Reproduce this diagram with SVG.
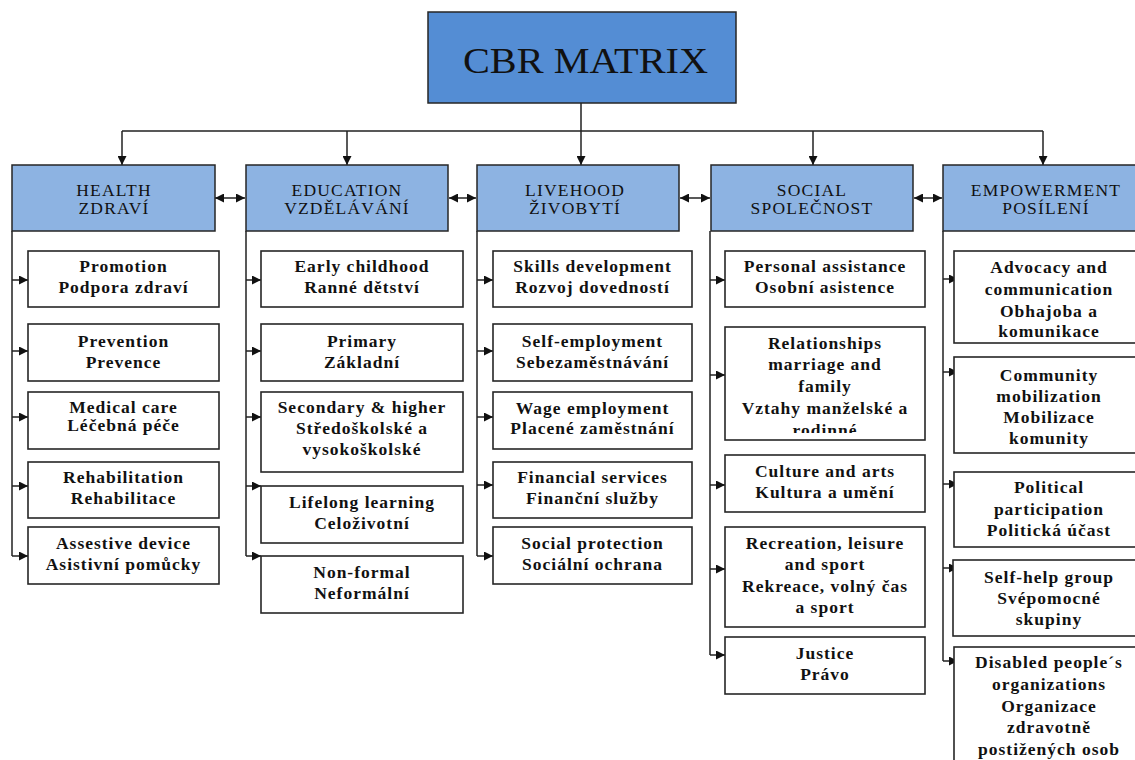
<svg xmlns="http://www.w3.org/2000/svg" width="1135" height="760" viewBox="0 0 1135 760">
<style>
.root{fill:#548DD4;stroke:#262626;stroke-width:1.5}
.hdr{fill:#8DB3E2;stroke:#262626;stroke-width:1.5}
.box{fill:#ffffff;stroke:#262626;stroke-width:1.6}
.con{fill:none;stroke:#222;stroke-width:1.5}
text{font-family:"Liberation Serif","Times New Roman",serif;fill:#111;text-anchor:middle}
.t{font-size:36px}
.h{font-size:17.5px;letter-spacing:1.2px}
.c{font-size:17.5px;font-weight:bold;letter-spacing:1px}
</style>
<defs>
<marker id="ah" viewBox="0 0 10 10" refX="10" refY="5" markerUnits="userSpaceOnUse" markerWidth="10" markerHeight="9" orient="auto-start-reverse">
<path d="M0,0 L10,5 L0,10 z" fill="#111"/>
</marker>
<clipPath id="clipRel"><rect x="725" y="327" width="200" height="106"/></clipPath>
</defs>

<g id="connectors">
<path class="con" d="M581,103 V131 M122,131 H1043"/>
<path class="con" marker-end="url(#ah)" d="M122,131 V165"/>
<path class="con" marker-end="url(#ah)" d="M347,131 V165"/>
<path class="con" marker-end="url(#ah)" d="M581,131 V165"/>
<path class="con" marker-end="url(#ah)" d="M813,131 V165"/>
<path class="con" marker-end="url(#ah)" d="M1043,131 V165"/>
<path class="con" marker-start="url(#ah)" marker-end="url(#ah)" d="M215,198 H245"/>
<path class="con" marker-start="url(#ah)" marker-end="url(#ah)" d="M449,198 H476"/>
<path class="con" marker-start="url(#ah)" marker-end="url(#ah)" d="M680,198 H710"/>
<path class="con" marker-start="url(#ah)" marker-end="url(#ah)" d="M914,198 H942"/>
<path class="con" d="M12,231 V556 M246,231 V556 M477,231 V556 M710,231 V655 M943,231 V661"/>
<path class="con" marker-end="url(#ah)" d="M12,280 H28"/>
<path class="con" marker-end="url(#ah)" d="M12,351 H28"/>
<path class="con" marker-end="url(#ah)" d="M12,417 H28"/>
<path class="con" marker-end="url(#ah)" d="M12,486 H28"/>
<path class="con" marker-end="url(#ah)" d="M12,556 H28"/>
<path class="con" marker-end="url(#ah)" d="M246,280 H261"/>
<path class="con" marker-end="url(#ah)" d="M246,351 H261"/>
<path class="con" marker-end="url(#ah)" d="M246,417 H261"/>
<path class="con" marker-end="url(#ah)" d="M246,486 H261"/>
<path class="con" marker-end="url(#ah)" d="M246,556 H261"/>
<path class="con" marker-end="url(#ah)" d="M477,280 H493"/>
<path class="con" marker-end="url(#ah)" d="M477,351 H493"/>
<path class="con" marker-end="url(#ah)" d="M477,417 H493"/>
<path class="con" marker-end="url(#ah)" d="M477,485 H493"/>
<path class="con" marker-end="url(#ah)" d="M477,556 H493"/>
<path class="con" marker-end="url(#ah)" d="M710,280 H725"/>
<path class="con" marker-end="url(#ah)" d="M710,375 H725"/>
<path class="con" marker-end="url(#ah)" d="M710,485 H725"/>
<path class="con" marker-end="url(#ah)" d="M710,569 H725"/>
<path class="con" marker-end="url(#ah)" d="M710,655 H725"/>
<path class="con" marker-end="url(#ah)" d="M943,279 H958"/>
<path class="con" marker-end="url(#ah)" d="M943,372 H958"/>
<path class="con" marker-end="url(#ah)" d="M943,484 H958"/>
<path class="con" marker-end="url(#ah)" d="M943,568 H958"/>
<path class="con" marker-end="url(#ah)" d="M943,661 H958"/>
</g>

<g id="cbr-matrix">
<rect class="root" x="428" y="12" width="308" height="91"/>
<text class="t" x="585.5" y="73" textLength="245" lengthAdjust="spacingAndGlyphs">CBR MATRIX</text>
</g>

<g id="health">
<rect class="hdr" x="12" y="165" width="203" height="66"/>
<text class="h" x="114" y="196">HEALTH</text>
<text class="h" x="114" y="214">ZDRAVÍ</text>
</g>
<g id="education">
<rect class="hdr" x="246" y="165" width="202" height="66"/>
<text class="h" x="347" y="196">EDUCATION</text>
<text class="h" x="347" y="214">VZDĚLÁVÁNÍ</text>
</g>
<g id="livehood">
<rect class="hdr" x="477" y="165" width="202" height="66"/>
<text class="h" x="575" y="196">LIVEHOOD</text>
<text class="h" x="575" y="214">ŽIVOBYTÍ</text>
</g>
<g id="social">
<rect class="hdr" x="711" y="165" width="202" height="66"/>
<text class="h" x="812" y="196">SOCIAL</text>
<text class="h" x="812" y="214">SPOLEČNOST</text>
</g>
<g id="empowerment">
<rect class="hdr" x="943" y="165" width="210" height="66"/>
<text class="h" x="1046" y="196">EMPOWERMENT</text>
<text class="h" x="1046" y="214">POSÍLENÍ</text>
</g>

<g id="h-promotion">
<rect class="box" x="28" y="251" width="191" height="56"/>
<text class="c" x="123.5" y="272">Promotion</text>
<text class="c" x="123.5" y="293">Podpora zdraví</text>
</g>
<g id="h-prevention">
<rect class="box" x="28" y="324" width="191" height="57"/>
<text class="c" x="123.5" y="347">Prevention</text>
<text class="c" x="123.5" y="368">Prevence</text>
</g>
<g id="h-medical">
<rect class="box" x="28" y="392" width="191" height="57"/>
<text class="c" x="123.5" y="413">Medical care</text>
<text class="c" x="123.5" y="431">Léčebná péče</text>
</g>
<g id="h-rehab">
<rect class="box" x="28" y="462" width="191" height="56"/>
<text class="c" x="123.5" y="483">Rehabilitation</text>
<text class="c" x="123.5" y="504">Rehabilitace</text>
</g>
<g id="h-assistive">
<rect class="box" x="28" y="527" width="191" height="57"/>
<text class="c" x="123.5" y="549">Assestive device</text>
<text class="c" x="123.5" y="570">Asistivní pomůcky</text>
</g>

<g id="e-early">
<rect class="box" x="261" y="251" width="202" height="56"/>
<text class="c" x="362" y="272">Early childhood</text>
<text class="c" x="362" y="293">Ranné dětství</text>
</g>
<g id="e-primary">
<rect class="box" x="261" y="324" width="202" height="57"/>
<text class="c" x="362" y="347">Primary</text>
<text class="c" x="362" y="368">Základní</text>
</g>
<g id="e-secondary">
<rect class="box" x="261" y="392" width="202" height="80"/>
<text class="c" x="362" y="413">Secondary &amp; higher</text>
<text class="c" x="362" y="434">Středoškolské a</text>
<text class="c" x="362" y="455">vysokoškolské</text>
</g>
<g id="e-lifelong">
<rect class="box" x="261" y="486" width="202" height="57"/>
<text class="c" x="362" y="508">Lifelong learning</text>
<text class="c" x="362" y="529">Celoživotní</text>
</g>
<g id="e-nonformal">
<rect class="box" x="261" y="556" width="202" height="57"/>
<text class="c" x="362" y="578">Non-formal</text>
<text class="c" x="362" y="599">Neformální</text>
</g>

<g id="l-skills">
<rect class="box" x="493" y="251" width="199" height="56"/>
<text class="c" x="592.5" y="272">Skills development</text>
<text class="c" x="592.5" y="293">Rozvoj dovedností</text>
</g>
<g id="l-self">
<rect class="box" x="493" y="324" width="199" height="57"/>
<text class="c" x="592.5" y="347">Self-employment</text>
<text class="c" x="592.5" y="368">Sebezaměstnávání</text>
</g>
<g id="l-wage">
<rect class="box" x="493" y="392" width="199" height="57"/>
<text class="c" x="592.5" y="414">Wage employment</text>
<text class="c" x="592.5" y="434">Placené zaměstnání</text>
</g>
<g id="l-financial">
<rect class="box" x="493" y="462" width="199" height="56"/>
<text class="c" x="592.5" y="483">Financial services</text>
<text class="c" x="592.5" y="504">Finanční služby</text>
</g>
<g id="l-protection">
<rect class="box" x="493" y="527" width="199" height="57"/>
<text class="c" x="592.5" y="549">Social protection</text>
<text class="c" x="592.5" y="570">Sociální ochrana</text>
</g>

<g id="s-personal">
<rect class="box" x="725" y="251" width="200" height="56"/>
<text class="c" x="825" y="272">Personal assistance</text>
<text class="c" x="825" y="293">Osobní asistence</text>
</g>
<g id="s-relationships">
<rect class="box" x="725" y="327" width="200" height="113"/>
<g clip-path="url(#clipRel)">
<text class="c" x="825" y="349">Relationships</text>
<text class="c" x="825" y="370">marriage and</text>
<text class="c" x="825" y="392">family</text>
<text class="c" x="825" y="414">Vztahy manželské a</text>
<text class="c" x="825" y="436">rodinné</text>
</g>
</g>
<g id="s-culture">
<rect class="box" x="725" y="455" width="200" height="57"/>
<text class="c" x="825" y="477">Culture and arts</text>
<text class="c" x="825" y="498">Kultura a umění</text>
</g>
<g id="s-recreation">
<rect class="box" x="725" y="527" width="200" height="100"/>
<text class="c" x="825" y="549">Recreation, leisure</text>
<text class="c" x="825" y="570">and sport</text>
<text class="c" x="825" y="592">Rekreace, volný čas</text>
<text class="c" x="825" y="613">a sport</text>
</g>
<g id="s-justice">
<rect class="box" x="725" y="637" width="200" height="57"/>
<text class="c" x="825" y="659">Justice</text>
<text class="c" x="825" y="680">Právo</text>
</g>

<g id="p-advocacy">
<rect class="box" x="954" y="251" width="200" height="92"/>
<text class="c" x="1049" y="273">Advocacy and</text>
<text class="c" x="1049" y="295">communication</text>
<text class="c" x="1049" y="317">Obhajoba a</text>
<text class="c" x="1049" y="337">komunikace</text>
</g>
<g id="p-community">
<rect class="box" x="954" y="357" width="200" height="96"/>
<text class="c" x="1049" y="381">Community</text>
<text class="c" x="1049" y="402">mobilization</text>
<text class="c" x="1049" y="423">Mobilizace</text>
<text class="c" x="1049" y="444">komunity</text>
</g>
<g id="p-political">
<rect class="box" x="954" y="472" width="200" height="75"/>
<text class="c" x="1049" y="493">Political</text>
<text class="c" x="1049" y="515">participation</text>
<text class="c" x="1049" y="536">Politická účast</text>
</g>
<g id="p-selfhelp">
<rect class="box" x="953" y="560" width="200" height="76"/>
<text class="c" x="1049" y="583">Self-help group</text>
<text class="c" x="1049" y="604">Svépomocné</text>
<text class="c" x="1049" y="625">skupiny</text>
</g>
<g id="p-dpo">
<rect class="box" x="954" y="647" width="200" height="130"/>
<text class="c" x="1049" y="668">Disabled people´s</text>
<text class="c" x="1049" y="690">organizations</text>
<text class="c" x="1049" y="712">Organizace</text>
<text class="c" x="1049" y="733">zdravotně</text>
<text class="c" x="1049" y="755">postižených osob</text>
</g>
</svg>
